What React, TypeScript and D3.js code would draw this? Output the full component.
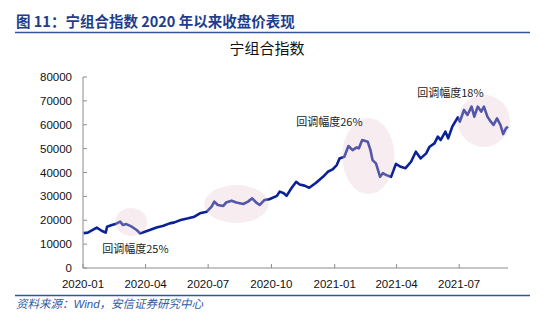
import React from "react";
import * as d3 from "d3";

const dates: string[] = [
  "2020-01-02","2020-01-08","2020-01-21","2020-01-28","2020-02-03","2020-02-05","2020-02-12","2020-02-17","2020-02-24","2020-02-28",
  "2020-03-04","2020-03-12","2020-03-19","2020-03-24","2020-03-31","2020-04-07","2020-04-17","2020-04-27","2020-05-06","2020-05-13",
  "2020-05-22","2020-06-02","2020-06-11","2020-06-19","2020-06-29","2020-07-06","2020-07-10","2020-07-15","2020-07-23","2020-07-27",
  "2020-08-04","2020-08-11","2020-08-21","2020-08-28","2020-09-03","2020-09-09","2020-09-14","2020-09-21","2020-09-28","2020-10-09",
  "2020-10-13","2020-10-19","2020-10-23","2020-10-30","2020-11-06","2020-11-11","2020-11-18","2020-11-25","2020-12-04","2020-12-15",
  "2020-12-22","2020-12-29","2021-01-04","2021-01-08","2021-01-15","2021-01-21","2021-01-27","2021-02-02","2021-02-05","2021-02-10",
  "2021-02-18","2021-02-22","2021-02-25","2021-03-02","2021-03-08","2021-03-12","2021-03-17","2021-03-24","2021-03-31","2021-04-07",
  "2021-04-14","2021-04-22","2021-04-29","2021-05-06","2021-05-14","2021-05-19","2021-05-26","2021-05-31","2021-06-04","2021-06-11",
  "2021-06-15","2021-06-21","2021-06-29","2021-07-02","2021-07-08","2021-07-13","2021-07-19","2021-07-23","2021-07-28","2021-08-02",
  "2021-08-06","2021-08-11","2021-08-16","2021-08-20","2021-08-25","2021-08-30","2021-09-03","2021-09-07","2021-09-10"
];
const closeValues: number[] = [
  14600,14800,16900,15600,14800,17300,18000,18400,19400,18000,
  18400,17300,15900,14500,15200,15900,17000,17700,18700,19100,
  20100,20800,21500,22900,23600,25700,27800,26400,26000,27400,
  28200,27400,26800,27800,29200,27400,26400,28500,28800,30200,
  32000,31300,30200,33400,36100,35000,34500,33600,35500,38200,
  40300,41300,43100,45900,46600,51100,49400,50500,50100,53600,
  52900,49400,45200,43800,38200,39700,38900,38200,43600,42400,
  41800,44500,48700,45900,48000,50800,52200,55000,53600,57100,
  54300,59200,63100,61300,66200,64100,67600,63400,67600,65500,
  67600,63400,61300,59900,62700,59900,56100,58500,59200
];
const yTicks: number[] = [0, 10000, 20000, 30000, 40000, 50000, 60000, 70000, 80000];
const xTickLabels: string[] = ["2020-01","2020-04","2020-07","2020-10","2021-01","2021-04","2021-07"];
const xDomain: string[] = ["2020-01-01", "2021-09-10"];

// highlight ellipses: centre date, centre value
const ellipseDates: string[] = ["2020-03-11", "2020-08-11", "2021-02-19", "2021-08-06"];
const ellipseValues: number[] = [19300, 26800, 46900, 61600];
const ellipseRx: number[] = [16, 32, 26, 26];
const ellipseRy: number[] = [14, 19, 38, 26];

const noteTexts: string[] = ["回调幅度25%", "回调幅度26%", "回调幅度18%"];
const noteDates: string[] = ["2020-01-29", "2020-11-06", "2021-05-01"];
const noteValues: number[] = [8000, 61100, 73300];

const W = 550, H = 322;
const left = 83, right = 508, top = 77, bottom = 268;

export default function App() {
  const parse = d3.timeParse("%Y-%m-%d");
  const x = d3.scaleTime()
    .domain([parse(xDomain[0])!, parse(xDomain[1])!])
    .range([left, right]);
  const y = d3.scaleLinear().domain([0, 80000]).range([bottom, top]);
  const data = dates.map((d, i) => ({ d: parse(d)!, v: closeValues[i] }));
  const line = d3.line<{ d: Date; v: number }>()
    .x((p) => x(p.d))
    .y((p) => y(p.v));
  const sans = "'Liberation Sans', Arial, sans-serif";
  const cjk = "'Noto Sans CJK SC', sans-serif";
  const axisColor = "#8c8c8c";

  return (
    <svg width={W} height={H} style={{ position: "absolute", left: 0, top: 0, background: "#fff" }}>
      <rect x={0} y={0} width={W} height={H} fill="#fff" />
      <text x={16} y={27} fontFamily={cjk} fontWeight={700} fontSize={14.5} fill="#1f3d8c">
        图 11：宁组合指数 2020 年以来收盘价表现
      </text>
      <line x1={15} x2={530} y1={32.5} y2={32.5} stroke="#2f559a" strokeWidth={1.5} />
      <text x={267} y={54} textAnchor="middle" fontFamily={cjk} fontSize={15} fill="#111">
        宁组合指数
      </text>

      {/* y axis */}
      <line x1={left} x2={left} y1={top} y2={bottom} stroke={axisColor} strokeWidth={1} />
      {yTicks.map((t) => (
        <g key={t}>
          <line x1={left} x2={left + 4} y1={y(t)} y2={y(t)} stroke={axisColor} />
          <text x={72} y={y(t)} dy="0.35em" textAnchor="end" fontFamily={sans} fontSize={11.5} fill="#111">
            {t}
          </text>
        </g>
      ))}
      {/* x axis */}
      <line x1={left} x2={right} y1={bottom} y2={bottom} stroke={axisColor} strokeWidth={1} />
      {xTickLabels.map((lab) => {
        const xv = x(parse(lab + "-01")!);
        return (
          <g key={lab}>
            <line x1={xv} x2={xv} y1={bottom} y2={bottom - 4} stroke={axisColor} />
            <text x={xv} y={288} textAnchor="middle" fontFamily={sans} fontSize={11.5} fill="#111">
              {lab}
            </text>
          </g>
        );
      })}

      <path d={line(data) || ""} fill="none" stroke="#0b2196" strokeWidth={2.6} strokeLinejoin="round" />

      {ellipseDates.map((d, i) => (
        <ellipse key={d} cx={x(parse(d)!)} cy={y(ellipseValues[i])} rx={ellipseRx[i]} ry={ellipseRy[i]}
          fill="rgb(231,198,205)" fillOpacity={0.33} />
      ))}

      {noteTexts.map((t, i) => (
        <text key={t} x={x(parse(noteDates[i])!)} y={y(noteValues[i])} dy="0.35em"
          fontFamily={cjk} fontSize={11} fill="#222">
          {t}
        </text>
      ))}

      <line x1={15} x2={530} y1={295.5} y2={295.5} stroke="#2f559a" strokeWidth={1.5} />
      <text x={16} y={308} fontFamily={cjk} fontStyle="italic" fontSize={11.5} fill="#2f5aa6">
        资料来源：<tspan fontFamily={sans}>Wind</tspan>，安信证券研究中心
      </text>
    </svg>
  );
}
